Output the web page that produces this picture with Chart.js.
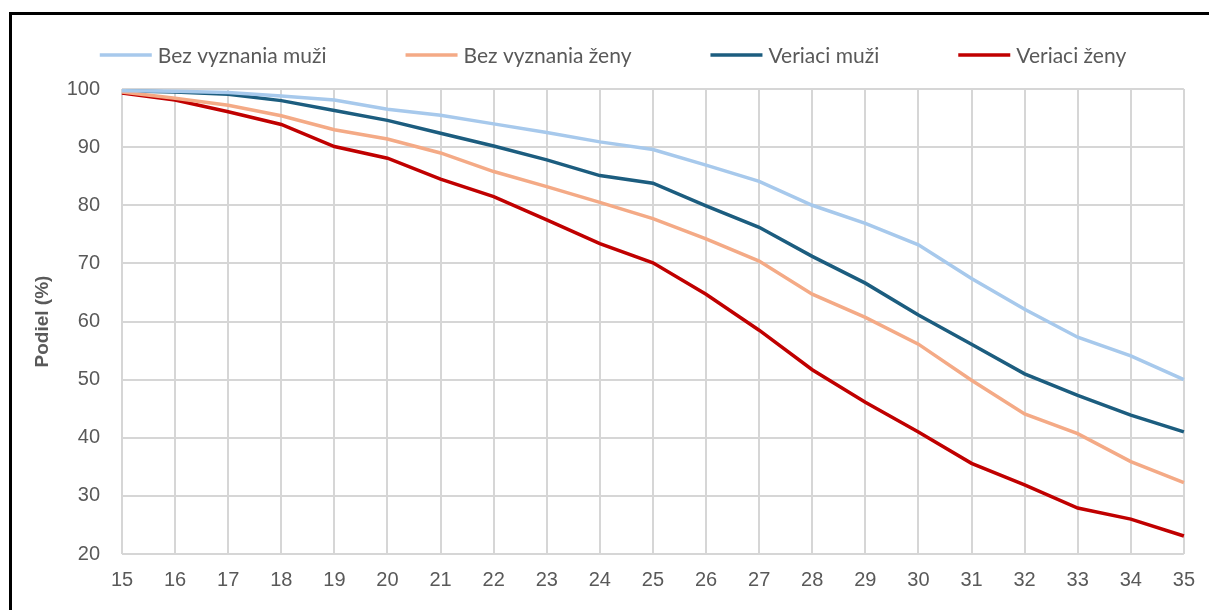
<!DOCTYPE html>
<html lang="sk">

<head>
    <meta charset="UTF-8">
    <meta name="viewport" content="width=device-width, initial-scale=1.0">
    <title>Podiel podľa veku</title>
    <script src="https://cdn.jsdelivr.net/npm/chart.js"></script>
    <style>
        html, body { margin: 0; padding: 0; background: #fff; overflow: hidden; }
        #frame {
            position: absolute; left: 9px; top: 12px; width: 1300px; height: 700px;
            border: 3px solid #000;
        }
        #myChart { position: absolute; left: 0; top: 0; }
    </style>
</head>

<body>
    <div id="frame"></div>
    <canvas id="myChart" width="1209" height="610"></canvas>

    <script>
        // vek (x os)
        const ages = ['15', '16', '17', '18', '19', '20', '21', '22', '23', '24', '25',
            '26', '27', '28', '29', '30', '31', '32', '33', '34', '35'];

        const seriesNames = ['Bez vyznania muži', 'Bez vyznania ženy', 'Veriaci muži', 'Veriaci ženy'];

        const bezVyznaniaMuzi = [99.7, 99.6, 99.4, 98.8, 98.1, 96.5, 95.5, 94.0, 92.5, 90.9, 89.6,
            86.9, 84.1, 80.0, 76.9, 73.2, 67.4, 62.1, 57.3, 54.1, 50.0];
        const bezVyznaniaZeny = [99.5, 98.4, 97.2, 95.4, 93.0, 91.4, 89.0, 85.8, 83.2, 80.5, 77.7,
            74.2, 70.4, 64.7, 60.7, 56.1, 49.9, 44.1, 40.7, 35.9, 32.3];
        const veriaciMuzi = [99.7, 99.5, 99.1, 98.0, 96.3, 94.6, 92.4, 90.2, 87.8, 85.1, 83.8,
            79.9, 76.2, 71.2, 66.6, 61.1, 56.1, 51.0, 47.3, 43.9, 41.0];
        const veriaciZeny = [99.3, 98.1, 96.1, 93.9, 90.1, 88.1, 84.5, 81.5, 77.5, 73.4, 70.1,
            64.7, 58.5, 51.7, 46.1, 41.0, 35.6, 31.9, 27.9, 26.0, 23.1];

        const yTicks = [20, 30, 40, 50, 60, 70, 80, 90, 100];

        const colors = ['#a7c9ec', '#f4aa86', '#1c5d7f', '#c00000'];
        const values = [bezVyznaniaMuzi, bezVyznaniaZeny, veriaciMuzi, veriaciZeny];

        const gray = '#595959';
        const gridColor = '#d6d6d6';

        // legenda nad grafom (ako v Exceli)
        const topLegend = {
            id: 'topLegend',
            afterDraw(chart) {
                const ctx = chart.ctx;
                const lineLen = 52, textGap = 6, itemGap = 79, y = 55;
                ctx.save();
                ctx.font = '21px Lato';
                const widths = chart.data.datasets.map(ds => lineLen + textGap + ctx.measureText(ds.label).width);
                const total = widths.reduce((a, b) => a + b, 0) + itemGap * (widths.length - 1);
                let x = 613 - total / 2;
                chart.data.datasets.forEach((ds, i) => {
                    ctx.strokeStyle = ds.borderColor;
                    ctx.lineWidth = 3.5;
                    ctx.beginPath();
                    ctx.moveTo(x, y);
                    ctx.lineTo(x + lineLen, y);
                    ctx.stroke();
                    ctx.fillStyle = gray;
                    ctx.textAlign = 'left';
                    ctx.textBaseline = 'middle';
                    ctx.fillText(ds.label, x + lineLen + textGap, y + 1);
                    x += widths[i] + itemGap;
                });
                ctx.restore();
            }
        };

        const chartData = {
            labels: ages,
            datasets: seriesNames.map((name, i) => ({
                label: name,
                data: values[i],
                borderColor: colors[i],
                backgroundColor: colors[i],
                borderWidth: 3.5,
                pointRadius: 0,
                tension: 0,
                fill: false
            }))
        };

        const ctx = document.getElementById('myChart');
        const myChart = new Chart(ctx, {
            type: 'line',
            data: chartData,
            options: {
                responsive: false,
                animation: false,
                layout: {
                    padding: { top: 89, right: 25, bottom: 0, left: 0 }
                },
                plugins: {
                    legend: { display: false },
                    tooltip: { enabled: false }
                },
                scales: {
                    x: {
                        grid: { color: gridColor, lineWidth: 2, drawTicks: false },
                        border: { display: false },
                        ticks: {
                            color: gray,
                            font: { family: '"Liberation Sans", Arial, sans-serif', size: 20 },
                            padding: 14,
                            maxRotation: 0,
                            autoSkip: false
                        },
                        afterFit(scale) { scale.height = 56; }
                    },
                    y: {
                        min: 20,
                        max: 100,
                        afterBuildTicks(scale) { scale.ticks = yTicks.map(v => ({ value: v })); },
                        grid: { color: gridColor, lineWidth: 2, drawTicks: false },
                        border: { display: false },
                        ticks: {
                            color: gray,
                            font: { family: '"Liberation Sans", Arial, sans-serif', size: 20 },
                            padding: 22
                        },
                        title: {
                            display: true,
                            text: 'Podiel (%)',
                            color: gray,
                            font: { family: '"Liberation Sans", Arial, sans-serif', size: 19, weight: 'bold' },
                            padding: { top: 31, bottom: 0 }
                        },
                        afterFit(scale) { scale.width = 122; }
                    }
                }
            },
            plugins: [topLegend]
        });
    </script>
</body>

</html>
